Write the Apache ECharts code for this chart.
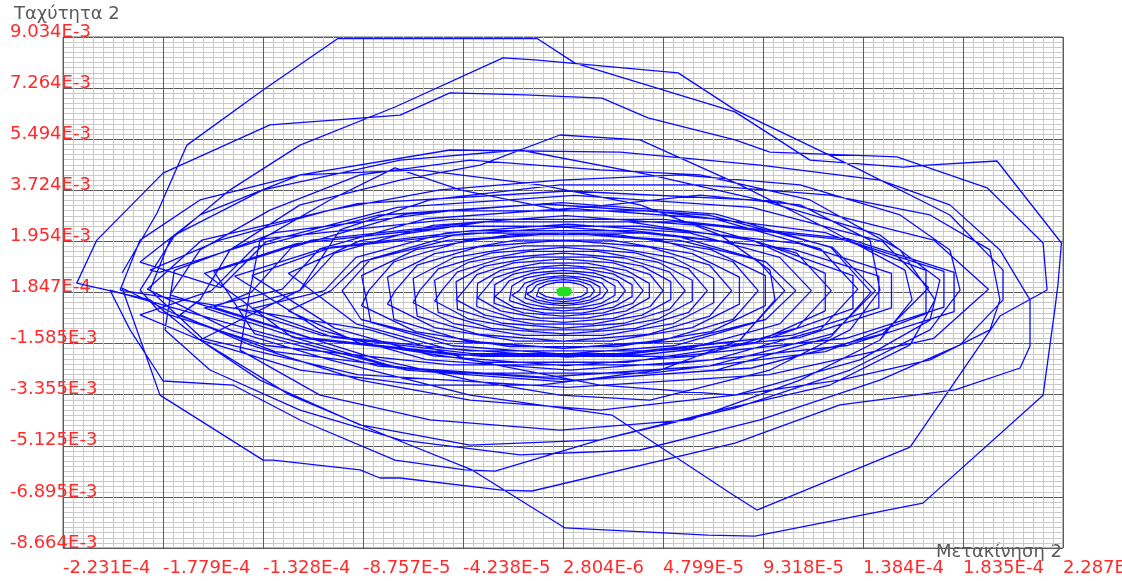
<!DOCTYPE html>
<html>
<head>
<meta charset="utf-8">
<script src="https://cdn.jsdelivr.net/npm/echarts@6/dist/echarts.min.js"></script>
<style>
  html, body { margin: 0; padding: 0; background: #ffffff; }
  #chart { width: 1122px; height: 581px; }
</style>
</head>
<body>
<div id="chart"></div>
<script>
// Axis tick labels (10 divisions on each axis)
const xTickLabels = ['-2.231E-4', '-1.779E-4', '-1.328E-4', '-8.757E-5', '-4.238E-5', '2.804E-6',
                     '4.799E-5', '9.318E-5', '1.384E-4', '1.835E-4', '2.287E-4'];
const yTickLabels = ['-8.664E-3', '-6.895E-3', '-5.125E-3', '-3.355E-3', '-1.585E-3', '1.847E-4',
                     '1.954E-3', '3.724E-3', '5.494E-3', '7.264E-3', '9.034E-3'];
const X_RANGE = [-2.231e-4, 2.287e-4];
const Y_RANGE = [-8.664e-3, 9.034e-3];

// Phase trajectory: [displacement (x1e-6), velocity (x1e-3)]
const strongSwings = [
  [-196.4,0.86],[-180.6,2.94],[-167.1,5.29],[-132.7,7.20],[-98.9,8.98],[-8.9,8.98],[8.2,8.13],[80.5,6.44],
  [114.4,4.77],[156.4,4.53],[167.3,4.60],[198.9,4.74],[228.0,1.90],[226.4,0.45],[225.1,-0.35],[219.7,-3.37],
  [165.4,-7.11],[89.5,-8.25],[68.3,-8.22],[3.7,-7.97],[-38.3,-5.96],[-75.4,-4.82],[-120.5,-3.37],[-161.2,-1.46],
  [-183.8,-0.07],
  [-216.9,0.51],[-207.8,2.00],[-177.9,4.32],[-129.6,5.99],[-70.8,6.33],[-48.3,7.10],[-14.4,7.03],[20.4,6.92],
  [41.2,6.23],[80.5,5.47],[96.3,5.05],[153.7,4.88],[194.4,3.81],[219.7,1.90],[221.5,0.27],[200.2,-0.63],
  [159.6,-5.17],[90.4,-7.35],[78.3,-6.76],[24.9,-4.06],[-39.2,-3.37],[-102.5,-2.15],[-147.6,-1.11],[-170.2,-0.25]
];

const mixedSwings = [
  [-185.0,0.30],[-160.3,2.00],[-90.0,3.26],[5.0,3.70],[100.0,3.35],[170.3,2.00],[195.0,0.30],[170.3,-1.40],
  [96.0,-2.66],[5.0,-3.10],[-90.0,-2.66],[-160.3,-1.40],
  [-183.8,0.27],[-174.8,2.00],[-147.6,3.74],[-116.0,5.29],[-73.1,6.61],[-24.3,8.31],[-9.9,8.24],[54.8,7.79],
  [80.5,6.51],[137.0,4.43],[177.6,2.87],[201.6,0.96],[201.6,-0.07],[182.2,-1.63],[146.0,-2.85],[91.8,-4.23],
  [37.6,-5.27],[-16.6,-5.44],[-70.8,-4.92],[-116.0,-3.89],[-156.7,-2.50],[-177.0,-1.11],
  [-172.8,0.95],[-127.3,2.26],[-48.5,3.01],[42.5,3.01],[121.3,2.26],[166.8,0.95],[166.8,-0.55],[121.3,-1.86],
  [42.5,-2.61],[-48.5,-2.61],[-127.3,-1.86],[-172.8,-0.55],
  [-196.4,0.34],[-179.3,-3.37],[-132.7,-5.62],[-128.2,-5.62],[-88.9,-5.96],[-79.9,-6.24],[-70.8,-6.24],[-24.8,-6.66],
  [-11.2,-6.69],[80.5,-5.03],[127.9,-3.71],[179.9,-3.19],[209.3,-2.43],[213.8,-1.67],[213.8,-0.07],[200.2,1.66],
  [177.6,3.22],[146.0,4.08],[91.8,4.60],[28.6,5.05],[-48.3,5.12],[-116.0,4.26],[-161.2,2.87],[-188.3,1.24],
  [-152.0,0.35],[-131.2,1.95],[-72.0,3.13],[8.0,3.55],[88.0,3.13],[147.2,1.95],[168.0,0.35],[147.2,-1.25],
  [88.0,-2.43],[8.0,-2.85],[-72.0,-2.43],[-131.2,-1.25],
  [-201.9,0.27],[-192.8,-1.11],[-177.9,-2.88],[-146.3,-3.02],[-116.0,-4.23],[-73.1,-5.62],[-41.5,-5.96],[-27.9,-6.00],
  [19.5,-4.92],[80.5,-3.82],[132.5,-2.50],[168.6,-1.11],[182.2,0.27],[177.6,1.66],[155.1,2.87],[109.9,3.91],
  [55.7,4.26],[1.4,4.08],[-52.8,3.74],[-102.5,3.04],[-152.2,2.00],[-183.8,0.96],
  [-179.5,0.88],[-131.4,2.05],[-48.1,2.72],[48.1,2.72],[131.4,2.05],[179.5,0.88],[179.5,-0.48],[131.4,-1.65],
  [48.1,-2.32],[-48.1,-2.32],[-131.4,-1.65],[-179.5,-0.48]
];

const irregularSwings = [
  [-188.3,0.27],[-172.5,2.18],[-132.7,3.74],[-70.8,4.77],[-16.6,5.12],[42.1,4.26],[91.8,3.39],[146.0,2.18],
  [173.1,0.62],[168.6,-0.77],[137.0,-2.15],[80.5,-3.37],[19.5,-3.89],[-39.2,-3.54],[-88.9,-2.85],[-138.6,-1.63],
  [-170.2,-0.59],
  [-161.2,-0.07],[-147.6,1.66],[-116.0,3.22],[-70.8,4.08],[-34.7,4.60],[1.4,5.64],[37.6,5.47],[82.8,3.91],
  [123.4,2.35],[157.3,0.96],[160.5,-0.07],[146.0,-1.46],[109.9,-2.85],[60.2,-4.23],[1.4,-4.58],[-57.3,-4.23],
  [-107.0,-3.37],[-143.1,-1.81],
  [-138.6,0.27],[-134.1,2.00],[-102.5,3.39],[-73.1,4.50],[-43.7,3.74],[1.4,3.04],[64.7,3.56],[109.9,3.22],
  [141.5,2.00],[146.0,0.27],[132.5,-1.11],[96.3,-2.50],[42.1,-3.54],[1.4,-3.37],[-39.2,-2.85],[-79.9,-2.15],
  [-116.0,-1.29],
  [-174.8,0.10],[-161.2,1.66],[-129.6,3.04],[-88.9,4.26],[-39.2,4.77],[19.5,4.43],[64.7,4.26],[114.4,3.39],
  [155.1,1.66],[170.9,-0.07],[159.6,-1.63],[123.4,-3.02],[73.7,-3.89],[19.5,-4.92],[-39.2,-5.10],[-88.9,-4.40],
  [-134.1,-2.85],[-161.2,-1.46],
  [-116.0,0.27],[-98.0,2.35],[-57.3,3.39],[1.4,3.91],[64.7,3.91],[123.4,3.56],[168.6,2.87],[195.7,1.66],
  [200.2,-0.07],[195.7,-1.11],[168.6,-2.15],[127.9,-2.85],[80.5,-3.37],[19.5,-3.02],[-39.2,-2.15],[-84.4,-1.11],
  [-197.3,0.27],[-188.3,2.00],[-161.2,3.39],[-116.0,4.26],[-61.8,4.43],[-7.6,3.91],[37.6,3.22],[73.7,2.18],
  [96.3,0.96],[98.6,-0.07],[82.8,-1.46],[46.6,-2.50],[-7.6,-3.02],[-61.8,-3.02],[-116.0,-2.50],[-161.2,-1.46],
  [-188.3,-0.59]
];

const mediumSwings = [
  [-156.0,0.25],[-136.5,1.75],[-81.0,2.86],[-6.0,3.25],[69.0,2.86],[124.5,1.75],[144.0,0.25],[124.5,-1.25],
  [69.0,-2.36],[-6.0,-2.75],[-81.0,-2.36],[-136.5,-1.25],
  [-154.9,0.92],[-110.7,2.00],[-34.2,2.63],[54.2,2.63],[130.7,2.00],[174.9,0.92],[174.9,-0.32],[130.7,-1.40],
  [54.2,-2.03],[-34.2,-2.03],[-110.7,-1.40],[-154.9,-0.32],
  [-138.0,0.20],[-119.8,1.75],[-68.0,2.90],[2.0,3.30],[72.0,2.90],[123.8,1.75],[142.0,0.20],[123.8,-1.35],
  [72.0,-2.50],[2.0,-2.90],[-68.0,-2.50],[-119.8,-1.35],
  [-159.2,0.85],[-117.6,1.88],[-45.6,2.48],[37.6,2.48],[109.6,1.88],[151.2,0.85],[151.2,-0.35],[109.6,-1.38],
  [37.6,-1.98],[-45.6,-1.98],[-117.6,-1.38],[-159.2,-0.35],
  [-124.0,0.30],[-107.1,1.70],[-59.0,2.74],[6.0,3.10],[71.0,2.74],[119.1,1.70],[136.0,0.30],[119.1,-1.10],
  [71.0,-2.14],[6.0,-2.50],[-59.0,-2.14],[-107.1,-1.10],
  [-145.5,0.75],[-106.5,1.69],[-39.0,2.24],[39.0,2.24],[106.5,1.69],[145.5,0.75],[145.5,-0.35],[106.5,-1.29],
  [39.0,-1.84],[-39.0,-1.84],[-106.5,-1.29],[-145.5,-0.35],
  [-116.0,0.25],[-100.4,1.55],[-56.0,2.51],[4.0,2.85],[64.0,2.51],[108.4,1.55],[124.0,0.25],[108.4,-1.05],
  [64.0,-2.01],[4.0,-2.35],[-56.0,-2.01],[-100.4,-1.05],
  [-137.8,0.77],[-101.4,1.76],[-38.4,2.33],[34.4,2.33],[97.4,1.76],[133.8,0.77],[133.8,-0.37],[97.4,-1.36],
  [34.4,-1.93],[-38.4,-1.93],[-101.4,-1.36],[-137.8,-0.37],
  [-105.0,0.25],[-90.7,1.40],[-50.0,2.25],[5.0,2.55],[60.0,2.25],[100.7,1.40],[115.0,0.25],[100.7,-0.90],
  [60.0,-1.75],[5.0,-2.05],[-50.0,-1.75],[-90.7,-0.90],
  [-121.3,0.85],[-88.8,1.98],[-32.5,2.63],[32.5,2.63],[88.8,1.98],[121.3,0.85],[121.3,-0.45],[88.8,-1.58],
  [32.5,-2.23],[-32.5,-2.23],[-88.8,-1.58],[-121.3,-0.45],
  [-102.0,0.25],[-88.4,1.25],[-49.5,1.99],[3.0,2.25],[55.5,1.99],[94.4,1.25],[108.0,0.25],[94.4,-0.75],
  [55.5,-1.49],[3.0,-1.75],[-49.5,-1.49],[-88.4,-0.75]
];

const decayingSwings = [
  [-97.0,0.25],[-84.0,1.35],[-47.0,2.16],[3.0,2.45],[53.0,2.16],[90.0,1.35],[103.0,0.25],[90.0,-0.85],
  [53.0,-1.66],[3.0,-1.95],[-47.0,-1.66],[-84.0,-0.85],
  [-88.2,0.77],[-63.7,1.67],[-21.4,2.19],[27.4,2.19],[69.7,1.67],[94.2,0.77],[94.2,-0.27],[69.7,-1.17],
  [27.4,-1.69],[-21.4,-1.69],[-63.7,-1.17],[-88.2,-0.27],
  [-85.0,0.25],[-73.6,1.25],[-41.0,1.99],[3.0,2.25],[47.0,1.99],[79.6,1.25],[91.0,0.25],[79.6,-0.75],
  [47.0,-1.49],[3.0,-1.75],[-41.0,-1.49],[-73.6,-0.75],
  [-76.5,0.72],[-55.2,1.53],[-18.3,2.00],[24.3,2.00],[61.2,1.53],[82.5,0.72],[82.5,-0.22],[61.2,-1.03],
  [24.3,-1.50],[-18.3,-1.50],[-55.2,-1.03],[-76.5,-0.22],
  [-73.0,0.25],[-63.1,1.13],[-35.0,1.77],[3.0,2.00],[41.0,1.77],[69.1,1.13],[79.0,0.25],[69.1,-0.63],
  [41.0,-1.27],[3.0,-1.50],[-35.0,-1.27],[-63.1,-0.63],
  [-64.9,0.67],[-46.7,1.39],[-15.2,1.80],[21.2,1.80],[52.7,1.39],[70.9,0.67],[70.9,-0.17],[52.7,-0.89],
  [21.2,-1.30],[-15.2,-1.30],[-46.7,-0.89],[-64.9,-0.17],
  [-62.0,0.25],[-53.6,1.00],[-29.5,1.56],[3.0,1.75],[35.5,1.56],[59.6,1.00],[68.0,0.25],[59.6,-0.50],
  [35.5,-1.06],[3.0,-1.25],[-29.5,-1.06],[-53.6,-0.50],
  [-55.2,0.61],[-39.6,1.24],[-12.6,1.61],[18.6,1.61],[45.6,1.24],[61.2,0.61],[61.2,-0.11],[45.6,-0.74],
  [18.6,-1.11],[-12.6,-1.11],[-39.6,-0.74],[-55.2,-0.11],
  [-52.0,0.25],[-44.9,0.90],[-24.5,1.38],[3.0,1.55],[30.5,1.38],[50.9,0.90],[58.0,0.25],[50.9,-0.40],
  [30.5,-0.88],[3.0,-1.05],[-24.5,-0.88],[-44.9,-0.40],
  [-45.5,0.56],[-32.5,1.10],[-10.0,1.41],[16.0,1.41],[38.5,1.10],[51.5,0.56],[51.5,-0.06],[38.5,-0.60],
  [16.0,-0.91],[-10.0,-0.91],[-32.5,-0.60],[-45.5,-0.06],
  [-42.0,0.25],[-36.2,0.80],[-19.5,1.21],[3.0,1.35],[25.5,1.21],[42.2,0.80],[48.0,0.25],[42.2,-0.30],
  [25.5,-0.71],[3.0,-0.85],[-19.5,-0.71],[-36.2,-0.30],
  [-35.8,0.50],[-25.4,0.95],[-7.4,1.20],[13.4,1.20],[31.4,0.95],[41.8,0.50],[41.8,0.00],[31.4,-0.45],
  [13.4,-0.70],[-7.4,-0.70],[-25.4,-0.45],[-35.8,0.00],
  [-33.0,0.25],[-28.3,0.69],[-15.0,1.02],[3.0,1.13],[21.0,1.02],[34.3,0.69],[39.0,0.25],[34.3,-0.19],
  [21.0,-0.52],[3.0,-0.63],[-15.0,-0.52],[-28.3,-0.19],
  [-28.0,0.46],[-19.7,0.82],[-5.3,1.03],[11.3,1.03],[25.7,0.82],[34.0,0.46],[34.0,0.04],[25.7,-0.32],
  [11.3,-0.53],[-5.3,-0.53],[-19.7,-0.32],[-28.0,0.04],
  [-25.0,0.25],[-21.4,0.60],[-11.0,0.86],[3.0,0.95],[17.0,0.86],[27.4,0.60],[31.0,0.25],[27.4,-0.10],
  [17.0,-0.36],[3.0,-0.45],[-11.0,-0.36],[-21.4,-0.10],
  [-20.3,0.41],[-14.0,0.69],[-3.2,0.85],[9.2,0.85],[20.0,0.69],[26.3,0.41],[26.3,0.09],[20.0,-0.19],
  [9.2,-0.35],[-3.2,-0.35],[-14.0,-0.19],[-20.3,0.09],
  [-17.0,0.25],[-14.4,0.51],[-7.0,0.70],[3.0,0.77],[13.0,0.70],[20.4,0.51],[23.0,0.25],[20.4,-0.01],
  [13.0,-0.20],[3.0,-0.27],[-7.0,-0.20],[-14.4,-0.01],
  [-13.5,0.37],[-9.1,0.57],[-1.4,0.69],[7.4,0.69],[15.1,0.57],[19.5,0.37],[19.5,0.13],[15.1,-0.07],
  [7.4,-0.19],[-1.4,-0.19],[-9.1,-0.07],[-13.5,0.13],
  [-11.0,0.25],[-9.2,0.44],[-4.0,0.58],[3.0,0.63],[10.0,0.58],[15.2,0.44],[17.0,0.25],[15.2,0.06],
  [10.0,-0.08],[3.0,-0.13],[-4.0,-0.08],[-9.2,0.06],
  [-8.0,0.33],[-4.8,0.46],[0.1,0.54],[5.9,0.54],[10.8,0.46],[13.7,0.33],[13.7,0.17],[10.8,0.04],
  [5.9,-0.04],[0.1,-0.04],[-4.8,0.04],[-8.0,0.17]
];

// Final settled motion
const settledMotion = [
  [0.0,0.22],[0.8,0.28],[3.2,0.31],[5.6,0.28],[6.4,0.22],[5.6,0.16],[3.2,0.13],[0.8,0.16],[0.4,0.22],
  [1.4,0.27],[3.2,0.29],[5.0,0.27],[5.8,0.22],[5.0,0.17],[3.2,0.15],[1.4,0.17],[0.4,0.22]
];

// convert stored units to SI values
const toSI = p => [p[0] * 1e-6, p[1] * 1e-3];
const trajectory = [].concat(strongSwings, mixedSwings, irregularSwings, mediumSwings, decayingSwings).map(toSI);
const settled = settledMotion.map(toSI);

const labelFont = 'DejaVu Sans';
const labelRed = '#ff2a2a';
const titleGray = '#5a5a5a';

const chart = echarts.init(document.getElementById('chart'), null, { renderer: 'canvas' });
chart.setOption({
  animation: false,
  backgroundColor: '#ffffff',
  grid: {
    left: 63, top: 37, width: 1000, height: 511,
    show: true, borderColor: '#6a6a6a', borderWidth: 1,
    containLabel: false, outerBoundsMode: 'none'
  },
  xAxis: [
    {
      type: 'value', min: 0, max: 10, interval: 1,
      axisLine: { show: false }, axisTick: { show: false },
      axisLabel: {
        formatter: v => xTickLabels[Math.round(v)] || '',
        align: 'left', margin: 11, color: labelRed, fontFamily: labelFont, fontSize: 18,
        showMinLabel: true, showMaxLabel: true, hideOverlap: false
      },
      splitLine: { show: true, lineStyle: { color: '#5c5c5c', width: 1 } },
      minorTick: { show: false, splitNumber: 10 },
      minorSplitLine: { show: true, lineStyle: { color: '#c9c9c9', width: 1 } }
    },
    { type: 'value', min: X_RANGE[0], max: X_RANGE[1], show: false, splitLine: { show: false } }
  ],
  yAxis: [
    {
      type: 'value', min: 0, max: 10, interval: 1,
      axisLine: { show: false }, axisTick: { show: false },
      axisLabel: {
        formatter: v => yTickLabels[Math.round(v)] || '',
        align: 'left', verticalAlign: 'bottom', lineHeight: 10, margin: 53,
        color: labelRed, fontFamily: labelFont, fontSize: 18,
        showMinLabel: true, showMaxLabel: true, hideOverlap: false
      },
      splitLine: { show: true, lineStyle: { color: '#5c5c5c', width: 1 } },
      minorTick: { show: false, splitNumber: 10 },
      minorSplitLine: { show: true, lineStyle: { color: '#c9c9c9', width: 1 } }
    },
    { type: 'value', min: Y_RANGE[0], max: Y_RANGE[1], show: false, splitLine: { show: false } }
  ],
  graphic: [
    { type: 'text', left: 14, top: 5, style: { text: 'Ταχύτητα 2', fill: titleGray, font: '18px "DejaVu Sans"' } },
    { type: 'text', right: 60, top: 543, style: { text: 'Μετακίνηση 2', fill: titleGray, font: '18px "DejaVu Sans"' } }
  ],
  series: [
    {
      type: 'line', xAxisIndex: 1, yAxisIndex: 1, data: trajectory,
      symbol: 'none', showSymbol: false, clip: true,
      lineStyle: { color: '#0c0cff', width: 1.3 }, z: 3
    },
    {
      type: 'line', xAxisIndex: 1, yAxisIndex: 1, data: settled,
      symbol: 'none', showSymbol: false, clip: true,
      lineStyle: { color: '#22e01e', width: 5 }, z: 4
    }
  ]
});
</script>
</body>
</html>
